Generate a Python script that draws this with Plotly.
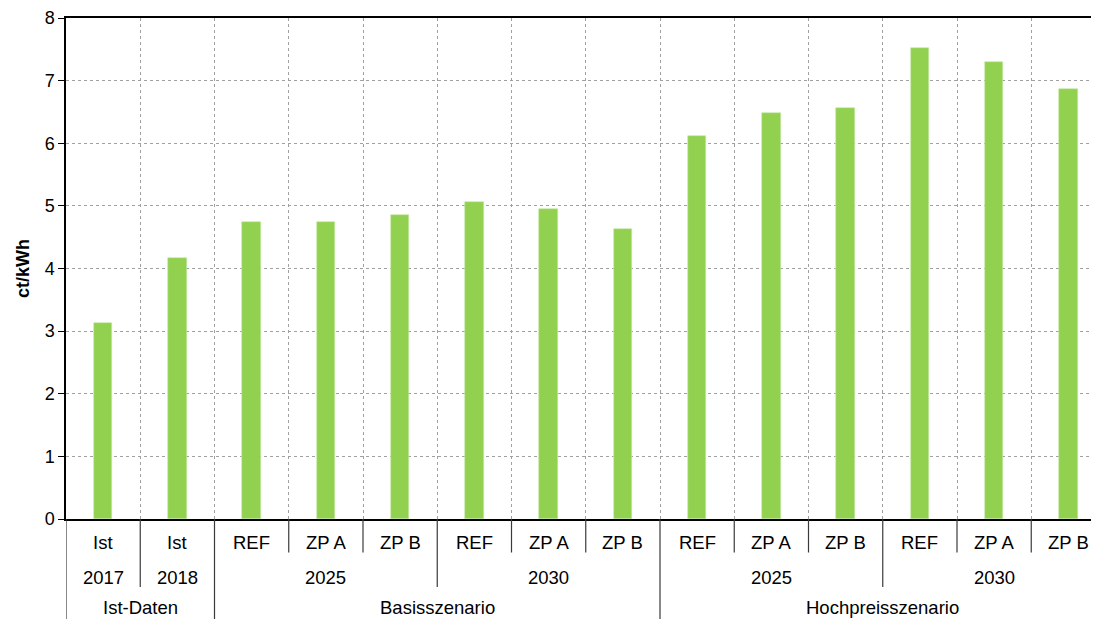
import plotly.graph_objects as go

# ---- data ----
level1 = ["Ist", "Ist", "REF", "ZP A", "ZP B", "REF", "ZP A", "ZP B",
          "REF", "ZP A", "ZP B", "REF", "ZP A", "ZP B"]
level2_labels = ["2017", "2018", "2025", "2030", "2025", "2030"]
level2_sizes = [1, 1, 3, 3, 3, 3]
level3_labels = ["Ist-Daten", "Basisszenario", "Hochpreisszenario"]
level3_sizes = [2, 6, 6]
values = [3.13, 4.16, 4.74, 4.74, 4.85, 5.06, 4.95, 4.63,
          6.12, 6.49, 6.56, 7.52, 7.30, 6.87]
y_ticks = [0, 1, 2, 3, 4, 5, 6, 7, 8]

FONT = "Liberation Sans, Arial, sans-serif"
GREEN = "#92D050"
LABEL_SIZE = 18.5
n = len(level1)
xs = list(range(n))

fig = go.Figure()
fig.add_trace(go.Bar(
    x=xs, y=values, width=0.25,
    marker=dict(color=GREEN, line=dict(color="#C8E8A8", width=0.6)),
    showlegend=False, hoverinfo="y",
))

# page body has an 8px default margin -> compensate
OFF = 8
W, H = 1099 - OFF, 619 - OFF
ml, mt, mb = 66 - OFF, 18 - OFF, 100
plot_h = H - mt - mb

def py(screen_pix):
    """screen pixel y (from top) -> paper y"""
    pix = screen_pix - OFF
    return (H - mb - pix) / plot_h

row_y = [542, 577, 607]
row_bottom = [552.5, 587, 625]

annotations = []
shapes = []

def label(x, row, text):
    annotations.append(dict(x=x, y=py(row_y[row]), xref="x", yref="paper",
                            xanchor="center", yanchor="middle",
                            text=text, showarrow=False,
                            font=dict(family=FONT, size=LABEL_SIZE, color="#000")))

for i, lab in enumerate(level1):
    label(i, 0, lab)

def groups(sizes):
    out, s = [], 0
    for sz in sizes:
        out.append((s, s + sz))
        s += sz
    return out

g2 = groups(level2_sizes)
g3 = groups(level3_sizes)
for (a, b), lab in zip(g2, level2_labels):
    label((a + b - 1) / 2, 1, lab)
for (a, b), lab in zip(g3, level3_labels):
    label((a + b - 1) / 2, 2, lab)

b3 = {a for a, b in g3} | {g3[-1][1]}
b2 = {a for a, b in g2} | {g2[-1][1]}
for k in range(n + 1):
    if k in b3:
        bottom = row_bottom[2]
    elif k in b2:
        bottom = row_bottom[1]
    else:
        bottom = row_bottom[0]
    shapes.append(dict(type="line", xref="x", yref="paper",
                       x0=k - 0.5, x1=k - 0.5, y0=0, y1=py(bottom),
                       line=dict(color="#3a3a3a", width=1.2)))

cat_w = 74.25
xmax = -0.5 + (W - ml) / cat_w

fig.update_layout(
    width=W, height=H,
    margin=dict(l=ml, r=0, t=mt, b=mb, autoexpand=False),
    paper_bgcolor="white", plot_bgcolor="white",
    font=dict(family=FONT, size=18, color="#000"),
    annotations=annotations, shapes=shapes,
    bargap=0,
)
fig.update_xaxes(
    range=[-0.5, xmax], tickmode="array",
    tickvals=[k - 0.5 for k in range(n + 1)], ticktext=[""] * (n + 1),
    showgrid=True, gridcolor="#a0a0a0", griddash="dot", gridwidth=1,
    showline=True, linecolor="black", linewidth=1.5, mirror=True,
    ticks="", zeroline=False, fixedrange=True, automargin=False,
)
fig.update_yaxes(
    range=[0, 8], tickvals=y_ticks,
    showgrid=True, gridcolor="#a0a0a0", griddash="dot", gridwidth=1,
    showline=True, linecolor="black", linewidth=1.5,
    ticks="outside", ticklen=6, tickcolor="black",
    tickfont=dict(family=FONT, size=18, color="#000"),
    title=dict(text="<b>ct/kWh</b>", font=dict(family=FONT, size=18, color="#000"), standoff=10),
    zeroline=False, fixedrange=True, automargin=False,
)

fig.write_html("out.html")
